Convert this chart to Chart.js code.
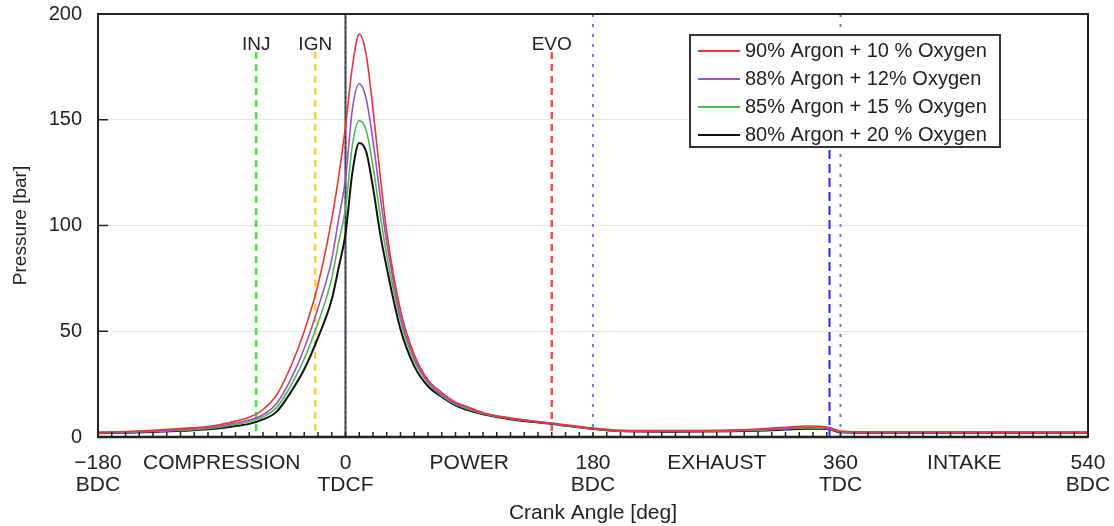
<!DOCTYPE html>
<html>
<head>
<meta charset="utf-8">
<title>Cylinder pressure</title>
<script src="https://cdn.jsdelivr.net/npm/chart.js@4.4.1/dist/chart.umd.min.js"></script>
<style>
    html, body { margin: 0; padding: 0; background: #fff; }
</style>
</head>
<body>
<canvas id="pressureChart" width="1114" height="526"></canvas>
<script>
(function () {
    "use strict";

    // Crank angle [deg]
    const angles = [-180, -160, -140, -120, -100, -90, -80, -70, -60, -50, -40, -30, -20, -10, -5,
        0, 5, 10, 15, 20, 25, 30, 40, 50, 60, 70, 80, 90, 100, 120,
        150, 180, 200, 240, 280, 300, 320, 335, 345, 352, 360, 380, 420, 480, 540];

    // Cylinder pressure [bar] per mixture
    const argon90 = [2.3, 2.6, 3.2, 4.0, 5.0, 6.0, 7.5, 9.3, 13, 20, 33, 50, 72, 103, 123,
        147, 175, 190.5, 181, 155, 125, 97, 60, 39, 27, 21, 16.5, 14, 11.5, 9,
        6.6, 4.2, 3.2, 3.0, 3.3, 3.8, 4.6, 5.2, 5.1, 4.5, 2.8, 2.4, 2.5, 2.3, 2.3];
    const argon88 = [2.0, 2.3, 2.8, 3.5, 4.5, 5.3, 6.6, 8.0, 10.5, 16, 27, 42, 61, 84, 103,
        122, 155, 167, 160, 140, 115, 92, 57, 37.5, 26, 20, 16, 13.5, 11.2, 8.8,
        6.4, 4.0, 3.0, 2.8, 3.0, 3.4, 4.1, 4.6, 4.5, 4.0, 2.5, 2.2, 2.3, 2.2, 2.2];
    const argon85 = [1.9, 2.2, 2.6, 3.2, 4.1, 4.8, 5.9, 7.2, 9.5, 14, 24, 37, 54, 75, 92,
        108, 138, 149.6, 145, 128, 106, 86, 55, 36, 25.5, 19.5, 15.5, 13, 11, 8.6,
        6.3, 3.9, 2.9, 2.7, 2.9, 3.2, 3.9, 4.3, 4.2, 3.8, 2.4, 2.1, 2.2, 2.1, 2.1];
    const argon80 = [1.8, 2.0, 2.4, 2.9, 3.7, 4.2, 5.2, 6.2, 8.3, 12, 21, 32, 47, 65, 80,
        96, 125, 139, 135, 118, 97, 80, 51, 33.5, 24, 19, 15, 12.5, 10.8, 8.4,
        6.2, 3.8, 2.8, 2.5, 2.7, 3.0, 3.5, 3.9, 3.9, 3.6, 2.2, 2.0, 2.0, 2.0, 2.0];

    const seriesLabels = [
        '90% Argon + 10 % Oxygen',
        '88% Argon + 12% Oxygen',
        '85% Argon + 15 % Oxygen',
        '80% Argon + 20 % Oxygen'
    ];

    // x axis labels: strokes and dead centres
    const phaseAngles = [-180, -90, 0, 90, 180, 270, 360, 450, 540];
    const phaseText = [['\u2212180', 'BDC'], 'COMPRESSION', ['0', 'TDCF'], 'POWER', ['180', 'BDC'],
        'EXHAUST', ['360', 'TDC'], 'INTAKE', ['540', 'BDC']];

    // Injection, ignition, exhaust valve opening
    const eventAngles = [-65, -22, 150];
    const eventLabels = ['INJ', 'IGN', 'EVO'];

    const tdcfAngle = 0;
    const dottedAngles = [180, 360];
    const exhaustEndAngle = 352;

    const font = '"Liberation Sans", Arial, sans-serif';
    const ink = '#222222';
    const lineColors = ['#ee3333', '#9b4fc8', '#4cbb4c', '#111111'];
    const eventColors = ['#3ee63e', '#ffcc3a', '#ff4d4d'];

    const series = [argon90, argon88, argon85, argon80];

    function vline(ctx, px, y0, y1, color, dash, width) {
        ctx.beginPath();
        ctx.setLineDash(dash);
        ctx.strokeStyle = color;
        ctx.lineWidth = width;
        ctx.moveTo(px, y0);
        ctx.lineTo(px, y1);
        ctx.stroke();
        ctx.setLineDash([]);
    }

    // legend box geometry
    const legendBox = { right: 88 + 310, top: 21, width: 310, height: 112, rowGap: 28 };

    const cycleMarks = {
        id: 'cycleMarks',
        beforeDatasetsDraw(chart) {
            const { ctx, chartArea: a, scales: { x } } = chart;
            ctx.save();

            eventAngles.forEach((ang, i) => {
                const px = x.getPixelForValue(ang);
                vline(ctx, px, a.top + 38, a.bottom, eventColors[i], [7, 5], 2.5);
                ctx.fillStyle = ink;
                ctx.font = '19px ' + font;
                ctx.textAlign = 'center';
                ctx.textBaseline = 'middle';
                ctx.fillText(eventLabels[i], px, a.top + 31);
            });

            dottedAngles.forEach(ang => {
                vline(ctx, x.getPixelForValue(ang), a.top, a.bottom, '#7373ff', [3, 7], 2);
            });

            const legendBottom = a.top + legendBox.top + legendBox.height;
            vline(ctx, x.getPixelForValue(exhaustEndAngle), legendBottom + 3, a.bottom, '#2828ea', [9, 5], 2);

            const p0 = x.getPixelForValue(tdcfAngle);
            vline(ctx, p0, a.top, a.bottom, '#333333', [], 2);
            vline(ctx, p0, a.top, a.bottom, '#5a5ab0', [2, 3], 1);

            ctx.restore();
        },
        afterDatasetsDraw(chart) {
            const { ctx, chartArea: a, scales: { x, y } } = chart;
            ctx.save();

            // frame
            ctx.strokeStyle = ink;
            ctx.lineWidth = 2;
            ctx.strokeRect(a.left, a.top, a.right - a.left, a.bottom - a.top);
            ctx.lineWidth = 2.5;
            ctx.beginPath();
            ctx.moveTo(a.left, a.bottom);
            ctx.lineTo(a.right, a.bottom);
            ctx.stroke();

            // inward ticks
            ctx.lineWidth = 1.5;
            ctx.beginPath();
            for (let v = x.min + 10; v < x.max; v += 10) {
                const px = x.getPixelForValue(v);
                ctx.moveTo(px, a.bottom);
                ctx.lineTo(px, a.bottom - 5);
            }
            for (let v = y.min + 50; v < y.max; v += 50) {
                const py = y.getPixelForValue(v);
                ctx.moveTo(a.left, py);
                ctx.lineTo(a.left + 10, py);
            }
            ctx.stroke();

            // legend
            const bx = a.right - legendBox.right;
            const by = a.top + legendBox.top;
            ctx.fillStyle = '#ffffff';
            ctx.fillRect(bx, by, legendBox.width, legendBox.height);
            ctx.lineWidth = 2;
            ctx.strokeStyle = '#333333';
            ctx.strokeRect(bx, by, legendBox.width, legendBox.height);

            ctx.font = '20px ' + font;
            ctx.textAlign = 'left';
            ctx.textBaseline = 'middle';
            chart.data.datasets.forEach((ds, i) => {
                const ry = by + 16 + i * legendBox.rowGap;
                ctx.beginPath();
                ctx.strokeStyle = ds.borderColor;
                ctx.lineWidth = 2;
                ctx.moveTo(bx + 8, ry);
                ctx.lineTo(bx + 50, ry);
                ctx.stroke();
                ctx.fillStyle = ink;
                ctx.fillText(ds.label, bx + 55, ry);
            });

            ctx.restore();
        }
    };

    const chart = new Chart(document.getElementById('pressureChart'), {
        type: 'line',
        data: {
            datasets: series.map((vals, i) => ({
                label: seriesLabels[i],
                data: angles.map((a, k) => ({ x: a, y: vals[k] })),
                borderColor: lineColors[i],
                borderWidth: i === 3 ? 2 : 1.6,
                pointRadius: 0,
                fill: false,
                cubicInterpolationMode: 'monotone'
            }))
        },
        options: {
            responsive: false,
            animation: false,
            devicePixelRatio: 1,
            layout: { padding: { left: 0, right: 26, top: 14, bottom: 0 } },
            plugins: {
                legend: { display: false },
                tooltip: { enabled: false }
            },
            scales: {
                x: {
                    type: 'linear',
                    min: -180,
                    max: 540,
                    afterBuildTicks: (s) => { s.ticks = phaseAngles.map(v => ({ value: v })); },
                    afterFit: (s) => {
                        s.height = 89;
                        s.paddingLeft = 0;
                        s.paddingRight = 0;
                    },
                    grid: { display: false, drawTicks: false },
                    border: { display: false },
                    ticks: {
                        autoSkip: false,
                        maxRotation: 0,
                        padding: 15,
                        color: ink,
                        font: { family: font, size: 21, lineHeight: 1.05 },
                        callback: (v) => phaseText[phaseAngles.indexOf(v)]
                    },
                    title: {
                        display: true,
                        text: 'Crank Angle [deg]',
                        color: ink,
                        font: { family: font, size: 21 },
                        padding: { top: 0, bottom: 0 }
                    }
                },
                y: {
                    min: 0,
                    max: 200,
                    afterFit: (s) => {
                        s.width = 98;
                        s.paddingTop = 0;
                        s.paddingBottom = 0;
                    },
                    grid: {
                        drawTicks: false,
                        color: (c) => (c.tick && (c.tick.value === 0 || c.tick.value === 200)) ? 'rgba(0,0,0,0)' : '#e6e6e6'
                    },
                    border: { display: false },
                    ticks: {
                        stepSize: 50,
                        padding: 16,
                        color: ink,
                        font: { family: font, size: 20 }
                    },
                    title: {
                        display: true,
                        text: 'Pressure [bar]',
                        color: ink,
                        font: { family: font, size: 19 },
                        padding: { top: 9, bottom: 0 }
                    }
                }
            }
        },
        plugins: [cycleMarks]
    });
})();
</script>
</body>
</html>
